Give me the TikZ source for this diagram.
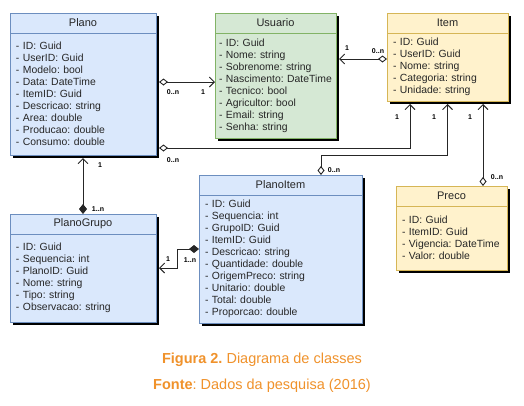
\documentclass[tikz,border=0pt]{standalone}
\usepackage{fontspec}
\setmainfont{Liberation Sans}
\usepackage{tikz}
\usetikzlibrary{positioning,shadows,arrows.meta}
\definecolor{blueF}{HTML}{DAE8FC}
\definecolor{blueD}{HTML}{6C8EBF}
\definecolor{greenF}{HTML}{D5E8D4}
\definecolor{greenD}{HTML}{82B366}
\definecolor{yellowF}{HTML}{FFF2CC}
\definecolor{yellowD}{HTML}{D6B656}
\definecolor{capOrange}{HTML}{F0922B}
\frenchspacing
\hyphenpenalty=10000

\begin{document}
\begin{tikzpicture}[x=1pt,y=-1pt]
            \tikzstyle{classhead}=[rectangle, outer sep=0pt, inner sep=0pt, minimum height=20pt, line width=0.8pt, font=\fontsize{11}{13}\selectfont, text=black!85, drop shadow={shadow xshift=3pt, shadow yshift=-3pt, fill=black, opacity=1}]
            \tikzstyle{classbody}=[rectangle, outer sep=0pt, inner xsep=6pt, inner ysep=0pt, line width=0.8pt, align=left, font=\fontsize{10.4}{12}\selectfont, text=black!85, drop shadow={shadow xshift=3pt, shadow yshift=-3pt, fill=black, opacity=1}]
            \tikzstyle{blueclass}=[fill=blueF, draw=blueD]
            \tikzstyle{greenclass}=[fill=greenF, draw=greenD]
            \tikzstyle{yellowclass}=[fill=yellowF, draw=yellowD]
            \tikzstyle{connect}=[line width=0.9pt, draw=black!85]
            \tikzstyle{aggr}=[{Diamond[length=9pt,width=7pt,fill=white]}-{Straight Barb[length=5pt,width=10pt]}]
            \tikzstyle{comp}=[{Diamond[length=10pt,width=8pt]}-{Straight Barb[length=5pt,width=10pt]}]
            \tikzstyle{mult}=[inner sep=0pt, font=\bfseries\fontsize{7}{8}\selectfont]
            \tikzstyle{caption}=[inner sep=0pt, text=capOrange, font=\fontsize{14.5}{17}\selectfont]

            \useasboundingbox[fill=white] (0,0) rectangle (524,405);

            \node[classhead, blueclass, minimum width=146pt] (Plano) at (83,23) {Plano};
            \node[classbody, blueclass, minimum width=146pt, minimum height=122pt, text width=134pt, below=0pt of Plano] (PlanoB) {- ID: Guid\\- UserID: Guid\\- Modelo: bool\\- Data: DateTime\\- ItemID: Guid\\- Descricao: string\\- Area: double\\- Producao: double\\- Consumo: double};

            \node[classhead, greenclass, minimum width=121pt] (Usuario) at (275.5,23) {Usuario};
            \node[classbody, greenclass, minimum width=121pt, minimum height=105pt, inner xsep=4pt, text width=113pt, below=0pt of Usuario] (UsuarioB) {- ID: Guid\\- Nome: string\\- Sobrenome: string\\- Nascimento: DateTime\\- Tecnico: bool\\- Agricultor: bool\\- Email: string\\- Senha: string};

            \node[classhead, yellowclass, minimum width=121pt] (Item) at (447.5,23) {Item};
            \node[classbody, yellowclass, minimum width=121pt, minimum height=68pt, text width=109pt, below=0pt of Item] (ItemB) {- ID: Guid\\- UserID: Guid\\- Nome: string\\- Categoria: string\\- Unidade: string};

            \node[classhead, yellowclass, minimum width=111pt] (Preco) at (451.5,196) {Preco};
            \node[classbody, yellowclass, minimum width=111pt, minimum height=64pt, text width=99pt, below=0pt of Preco] (PrecoB) {- ID: Guid\\- ItemID: Guid\\- Vigencia: DateTime\\- Valor: double};

            \node[classhead, blueclass, minimum width=146pt] (PlanoGrupo) at (83,224) {PlanoGrupo};
            \node[classbody, blueclass, minimum width=146pt, minimum height=88pt, text width=134pt, below=0pt of PlanoGrupo] (PlanoGrupoB) {- ID: Guid\\- Sequencia: int\\- PlanoID: Guid\\- Nome: string\\- Tipo: string\\- Observacao: string};

            \node[classhead, blueclass, minimum width=163pt] (PlanoItem) at (280.5,185) {PlanoItem};
            \node[classbody, blueclass, minimum width=163pt, minimum height=128pt, text width=151pt, below=0pt of PlanoItem] (PlanoItemB) {- ID: Guid\\- Sequencia: int\\- GrupoID: Guid\\- ItemID: Guid\\- Descricao: string\\- Quantidade: double\\- OrigemPreco: string\\- Unitario: double\\- Total: double\\- Proporcao: double};

            \coordinate (pu) at ([yshift=12pt]PlanoB.east);
            \coordinate (pi) at ([yshift=7pt]PlanoB.south east);
            \coordinate (iu) at ([yshift=8pt]ItemB.west);
            \coordinate (ii) at ([xshift=40.5pt]PlanoItem.north);
            \coordinate (pr) at ([xshift=31.5pt]Preco.north);
            \coordinate (ig) at ([yshift=10pt]PlanoItemB.west);
            \coordinate (gi) at ([yshift=10pt]PlanoGrupoB.east);

            \draw[connect, aggr, shorten <=3pt] (pu) -- (pu -| UsuarioB.west);
            \draw[connect, aggr, shorten <=3pt, shorten >=3pt] (pi) -| ([xshift=23pt]ItemB.south west);
            \draw[connect, aggr, shorten >=3pt] (iu) -- (iu -| UsuarioB.east);
            \draw[connect, aggr, shorten >=3pt] (ii) -- ++(0,-20) -| (ItemB.south);
            \draw[connect, aggr, shorten >=3pt] (pr) -- (pr |- ItemB.south);
            \path[-] (PlanoGrupo) edge [connect, comp, shorten >=3pt] (PlanoB);
            \draw[connect, comp, shorten >=3pt] (ig) -- ++(-22,0) |- (gi);

            \node[mult] (m1) at (173,92) {0..n};
            \node[mult] (m2) at (203,92) {1};
            \node[mult] (m3) at (173,160) {0..n};
            \node[mult] (m4) at (397,117) {1};
            \node[mult] (m5) at (378,51) {0..n};
            \node[mult] (m6) at (347,48) {1};
            \node[mult] (m7) at (334,170) {0..n};
            \node[mult] (m8) at (434,117) {1};
            \node[mult] (m9) at (497,177) {0..n};
            \node[mult] (m10) at (470,117) {1};
            \node[mult] (m11) at (98,209) {1..n};
            \node[mult] (m12) at (100,165) {1};
            \node[mult] (m13) at (168,259) {1};
            \node[mult] (m14) at (190,260) {1..n};

            \node[caption] (fig) at (262,360) {\textbf{Figura 2.} Diagrama de classes};
            \node[caption] (src) at (262,386) {\textbf{Fonte}: Dados da pesquisa (2016)};

        \end{tikzpicture}
\end{document}
